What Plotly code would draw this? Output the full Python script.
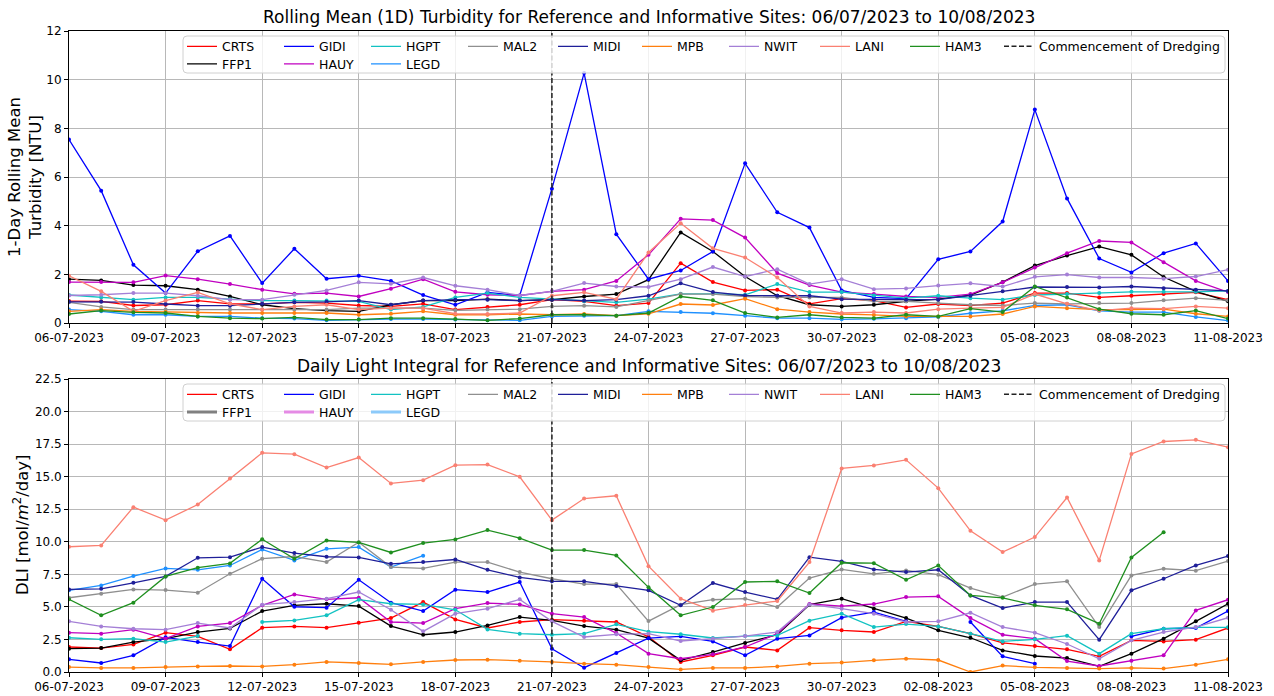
import pandas as pd
import plotly.graph_objects as go
from plotly.subplots import make_subplots

nan = None

START_DATE = "2023-07-06"
END_DATE = "2023-08-11"
DATES = pd.date_range(START_DATE, END_DATE, freq="D")
DREDGE_DATE = "2023-07-21"

SITES = ["CRTS", "FFP1", "GIDI", "HAUY", "HGPT", "LEGD", "MAL2", "MIDI", "MPB", "NWIT", "LANI", "HAM3"]

# ---- 1-day rolling mean turbidity [NTU] ----
CRTS_T = [0.90, 0.89, 0.72, 0.75, 0.92, 0.79, 0.79, 0.85, 0.82, 0.72, 0.68, 0.79, 0.55, 0.66, 0.75, 0.96, 0.89, 0.71,
          0.82, 2.46, 1.68, 1.34, 1.37, 0.79, 1.00, 0.92, 0.64, 0.78, 0.72, 0.82, 1.23, 1.23, 1.05, 1.12, 1.19, 1.26, 0.96]
FFP1_T = [1.80, 1.75, 1.56, 1.53, 1.37, 1.09, 0.75, 0.59, 0.51, 0.48, 0.75, 0.92, 0.92, 0.98, 0.92, 0.96, 1.09, 1.19,
          1.78, 3.72, 2.94, 1.91, 1.12, 0.75, 0.68, 0.75, 0.89, 0.98, 1.15, 1.68, 2.36, 2.77, 3.14, 2.80, 1.89, 1.30, 0.89]
GIDI_T = [7.54, 5.44, 2.39, 1.23, 2.95, 3.58, 1.64, 3.05, 1.82, 1.94, 1.73, 1.15, 0.75, 1.26, 1.13, 5.52, 10.27, 3.65,
          1.80, 2.16, 2.94, 6.56, 4.55, 3.92, 1.34, 1.05, 1.00, 2.62, 2.94, 4.17, 8.77, 5.12, 2.65, 2.08, 2.87, 3.27, 1.73]
HAUY_T = [1.68, 1.68, 1.67, 1.95, 1.80, 1.60, 1.37, 1.20, 1.23, 1.09, 1.41, 1.80, 1.28, 1.16, 1.13, 1.30, 1.37, 1.73,
          2.80, 4.28, 4.23, 3.51, 2.05, 1.56, 1.27, 1.19, 1.09, 1.05, 1.19, 1.67, 2.28, 2.87, 3.37, 3.31, 2.50, 1.73, 1.27]
HGPT_T = [1.15, 1.05, 0.96, 1.05, 1.05, 0.98, 0.92, 0.92, 0.92, 0.89, 0.55, 0.66, 1.05, 1.23, 1.05, 0.98, 0.89, 0.85,
          0.98, 1.20, 1.20, 1.16, 1.60, 1.27, 1.27, 1.13, 1.02, 1.12, 1.02, 0.96, 1.15, 1.19, 1.23, 1.28, 1.28, 1.28, 1.32]
LEGD_T = [0.55, 0.48, 0.34, 0.34, 0.27, 0.27, 0.20, 0.18, 0.11, 0.14, 0.16, 0.16, 0.14, 0.11, 0.11, 0.27, 0.30, 0.30,
          0.48, 0.45, 0.40, 0.30, 0.20, 0.20, 0.15, 0.17, 0.20, 0.25, 0.40, 0.50, 0.72, 0.75, 0.50, 0.45, 0.45, 0.25, 0.10]
MAL2_T = [0.85, 0.66, 0.55, 0.55, 0.55, 0.55, 0.55, 0.55, 0.55, 0.61, 0.61, 0.61, 0.52, 0.55, 0.57, 0.68, 0.71, 0.66,
          0.92, 1.19, 1.19, 1.09, 1.05, 1.05, 1.05, 0.89, 0.89, 0.82, 0.75, 0.72, 0.82, 0.79, 0.82, 0.82, 0.93, 1.02, 0.93]
MIDI_T = [0.87, 0.87, 0.86, 0.78, 0.71, 0.71, 0.79, 0.85, 0.87, 0.92, 0.75, 0.92, 0.96, 0.96, 0.92, 0.96, 0.92, 0.96,
          1.12, 1.63, 1.27, 1.13, 1.12, 1.12, 0.98, 0.96, 0.96, 0.96, 1.12, 1.30, 1.48, 1.48, 1.46, 1.50, 1.43, 1.37, 1.32]
MPB_T = [0.48, 0.55, 0.48, 0.45, 0.41, 0.41, 0.41, 0.41, 0.41, 0.34, 0.38, 0.48, 0.34, 0.34, 0.37, 0.34, 0.37, 0.30,
         0.38, 0.78, 0.74, 1.00, 0.57, 0.45, 0.37, 0.33, 0.27, 0.27, 0.27, 0.37, 0.68, 0.61, 0.55, 0.55, 0.57, 0.38, 0.27]
NWIT_T = [1.13, 1.16, 1.23, 1.23, 1.12, 0.96, 0.96, 1.16, 1.34, 1.67, 1.61, 1.87, 1.53, 1.37, 1.13, 1.30, 1.64, 1.50,
          1.48, 1.80, 2.30, 1.91, 2.21, 1.60, 1.80, 1.39, 1.42, 1.54, 1.63, 1.50, 1.90, 1.99, 1.87, 1.87, 1.82, 1.91, 2.19]
LANI_T = [1.94, 1.30, 0.48, 0.92, 1.26, 0.79, 0.55, 0.68, 0.75, 0.55, 0.61, 0.61, 0.38, 0.37, 0.41, 1.12, 1.26, 0.98,
          2.90, 4.10, 3.07, 2.69, 1.87, 0.68, 0.41, 0.45, 0.41, 0.57, 0.61, 0.64, 1.19, 0.79, 0.51, 0.61, 0.59, 0.68, 0.61]
HAM3_T = [0.37, 0.51, 0.44, 0.41, 0.27, 0.20, 0.18, 0.23, 0.14, 0.14, 0.20, 0.20, 0.16, 0.11, 0.18, 0.34, 0.34, 0.30,
          0.41, 1.09, 0.93, 0.41, 0.23, 0.34, 0.23, 0.20, 0.34, 0.27, 0.59, 0.45, 1.50, 1.05, 0.57, 0.38, 0.34, 0.51, 0.18]

# ---- Daily light integral [mol/m2/day] ----
CRTS_D = [1.92, 1.84, 2.12, 3.02, 2.74, 1.74, 3.40, 3.50, 3.40, 3.79, 4.14, 5.37, 4.04, 3.38, 3.84, 4.02, 3.94, 3.84,
          2.70, 0.77, 1.28, 1.92, 1.66, 3.40, 3.20, 3.07, 3.89, 3.50, 2.94, 2.23, 1.99, 1.74, 1.20, 2.43, 2.35, 2.48, 3.38]
FFP1_D = [1.79, 1.84, 2.30, 2.56, 3.07, 3.35, 4.68, 5.12, 5.24, 5.06, 3.53, 2.86, 3.07, 3.58, 4.22, 3.96, 3.53, 3.25,
          2.60, 0.90, 1.53, 2.23, 2.86, 5.17, 5.63, 4.86, 4.14, 3.20, 2.63, 1.66, 1.23, 1.07, 0.43, 1.41, 2.56, 3.89, 5.24]
GIDI_D = [0.97, 0.69, 1.28, 2.66, 2.30, 1.99, 7.16, 5.01, 4.94, 7.08, 5.32, 4.68, 6.32, 6.14, 6.91, 1.79, 0.33, 1.46,
          2.60, 2.74, 2.35, 1.28, 2.56, 2.81, 4.17, 4.60, 3.89, nan, 3.84, 1.20, 0.64, nan, nan, 2.74, 3.32, 3.38, 4.68]
HAUY_D = [3.02, 2.94, 3.25, 2.56, 3.50, 3.76, 5.12, 5.96, 5.58, 5.70, 3.84, 3.76, 4.86, 5.29, 5.19, 4.48, 4.22, 2.99,
          1.41, 1.02, 1.36, 1.92, 2.94, 5.22, 5.06, 5.22, 5.75, 5.81, 4.14, 2.86, 2.56, 0.84, 0.46, 0.87, 1.28, 4.73, 5.55]
HGPT_D = [2.63, 2.51, 2.56, 2.30, 2.76, nan, 3.84, 3.96, 4.35, 5.55, 5.24, 5.19, 4.78, 3.27, 2.94, 2.86, 2.94, 3.66,
          3.10, 2.90, 2.61, 2.76, 2.81, 3.94, 4.48, 3.45, 3.68, 3.50, 2.94, 2.35, 2.51, 2.79, 1.41, 2.94, 3.32, 3.43, 3.43]
LEGD_D = [6.27, 6.65, 7.37, 7.95, 7.85, 8.18, 9.41, 8.57, 9.46, 9.59, 8.06, 8.93, nan, nan, nan, nan, nan, nan,
          nan, nan, nan, nan, nan, nan, nan, nan, nan, nan, nan, nan, nan, nan, nan, nan, nan, nan, nan]
MAL2_D = [5.70, 6.01, 6.34, 6.29, 6.09, 7.54, 8.70, 8.87, 8.44, 9.97, 8.06, 7.95, 8.44, 8.44, 7.67, 7.16, 6.75, 6.75,
          3.91, 5.17, 5.55, 5.63, 4.99, 7.21, 7.88, 7.54, 7.80, 7.47, 6.45, 5.75, 6.75, 6.96, 3.45, 7.42, 7.93, 7.78, 8.52]
MIDI_D = [6.34, 6.39, 6.85, 7.34, 8.77, 8.82, 9.59, 9.13, 8.85, 8.80, 8.31, 8.44, 8.64, 7.85, 7.26, 6.96, 6.96, 6.60,
          6.27, 5.12, 6.83, 6.14, 5.58, 8.82, 8.49, 7.88, 7.67, 7.85, 5.88, 4.91, 5.37, 5.37, 2.48, 6.27, 7.16, 8.18, 8.90]
MPB_D = [0.38, 0.31, 0.31, 0.38, 0.43, 0.46, 0.43, 0.56, 0.77, 0.69, 0.59, 0.77, 0.92, 0.95, 0.87, 0.77, 0.64, 0.56,
         0.38, 0.20, 0.31, 0.31, 0.43, 0.64, 0.72, 0.90, 1.02, 0.92, 0.00, 0.49, 0.36, 0.31, 0.26, 0.31, 0.26, 0.56, 0.97]
NWIT_D = [3.89, 3.50, 3.32, 3.25, 3.76, 3.38, 5.17, 5.37, 5.63, 6.14, 4.78, 3.12, 4.48, 4.86, 5.58, 3.89, 2.69, 2.89,
          2.94, 2.38, 2.56, 2.76, 3.07, 5.19, 4.86, 4.48, 3.84, 3.89, 4.55, 3.45, 3.02, 2.15, 1.02, 2.43, 3.07, 3.45, 4.17]
LANI_D = [9.62, 9.72, 12.66, 11.66, 12.86, 14.86, 16.83, 16.73, 15.70, 16.47, 14.48, 14.73, 15.88, 15.93, 14.99, 11.66,
          13.32, 13.53, 8.13, 5.63, 4.71, 5.14, 5.45, 8.44, 15.63, 15.86, 16.29, 14.12, 10.84, 9.21, 10.36, 13.40, 8.57,
          16.75, 17.70, 17.83, 17.26]
HAM3_D = [5.58, 4.35, 5.32, 7.34, 8.01, 8.34, 10.20, 8.70, 10.10, 9.95, 9.18, 9.90, 10.18, 10.90, 10.28, 9.36, 9.36, 8.95,
          6.50, 4.35, 4.99, 6.91, 6.96, 6.06, 8.39, 8.36, 7.08, 8.18, 5.88, 5.70, 5.12, 4.81, 3.71, 8.80, 10.74, nan, nan]

TURBIDITY = {"CRTS": CRTS_T, "FFP1": FFP1_T, "GIDI": GIDI_T, "HAUY": HAUY_T, "HGPT": HGPT_T, "LEGD": LEGD_T,
             "MAL2": MAL2_T, "MIDI": MIDI_T, "MPB": MPB_T, "NWIT": NWIT_T, "LANI": LANI_T, "HAM3": HAM3_T}
DLI = {"CRTS": CRTS_D, "FFP1": FFP1_D, "GIDI": GIDI_D, "HAUY": HAUY_D, "HGPT": HGPT_D, "LEGD": LEGD_D,
       "MAL2": MAL2_D, "MIDI": MIDI_D, "MPB": MPB_D, "NWIT": NWIT_D, "LANI": LANI_D, "HAM3": HAM3_D}

COLORS = {"CRTS": "#ff0000", "FFP1": "#000000", "GIDI": "#0000ff", "HAUY": "#c000c0", "HGPT": "#12c2c2",
          "LEGD": "#1e90ff", "MAL2": "#8f8f8f", "MIDI": "#1f1f99", "MPB": "#ff7f0e", "NWIT": "#a47fd6",
          "LANI": "#fa8072", "HAM3": "#1f8f1f"}
# bottom-panel legend handles drawn differently in the reference
DLI_LEGEND_STYLE = {"FFP1": ("#808080", 3), "HAUY": ("#e58be5", 3), "LEGD": ("#8ccafa", 3)}

ROW1 = ["CRTS", "GIDI", "HGPT", "MAL2", "MIDI", "MPB", "NWIT", "LANI", "HAM3"]
ROW2 = ["FFP1", "HAUY", "LEGD"]
ENTRY_W = {"CRTS": 52, "GIDI": 42, "HGPT": 52, "MAL2": 45, "MIDI": 39, "MPB": 42, "NWIT": 46, "LANI": 45,
           "HAM3": 49, "FFP1": 52, "HAUY": 42}

TITLE_T = "Rolling Mean (1D) Turbidity for Reference and Informative Sites: 06/07/2023 to 10/08/2023"
TITLE_D = "Daily Light Integral for Reference and Informative Sites: 06/07/2023 to 10/08/2023"
YLAB_T = "1-Day Rolling Mean<br>Turbidity [NTU]"
YLAB_D = "DLI [mol/<i>m</i><sup>2</sup>/day]"
DREDGE_LABEL = "Commencement of Dredging"
YMAX_T = 12
YMAX_D = 22.5

FONT = "DejaVu Sans"
W, H = 1274, 696
L, R, T, B = 69, 46, 31, 24
PW, PH = W - L - R, H - T - B


def py(pix):  # page pixel y -> paper y
    return (H - B - pix) / PH


def px(pix):  # page pixel x -> paper x
    return (pix - L) / PW


fig = make_subplots(rows=2, cols=1)

panels = [(1, TURBIDITY, "legend", "legend2", YMAX_T), (2, DLI, "legend3", "legend4", YMAX_D)]
for row, data, lg1, lg2, ymax in panels:
    for site in SITES:
        col = COLORS[site]
        lg = lg1 if site in ROW1 else lg2
        special = row == 2 and site in DLI_LEGEND_STYLE
        fig.add_trace(go.Scatter(
            x=DATES, y=data[site], mode="lines", name=site, line=dict(color=col, width=1.3),
            legend=lg, showlegend=not special, legendwidth=ENTRY_W.get(site, 0), hoverinfo="skip"),
            row=row, col=1)
        fig.add_trace(go.Scatter(
            x=DATES, y=data[site], mode="markers", name=site, marker=dict(color=col, size=4),
            showlegend=False), row=row, col=1)
        if special:
            c2, w2 = DLI_LEGEND_STYLE[site]
            fig.add_trace(go.Scatter(
                x=[None], y=[None], mode="lines", name=site, line=dict(color=c2, width=w2),
                legend=lg, legendwidth=ENTRY_W.get(site, 0)), row=row, col=1)
    fig.add_trace(go.Scatter(
        x=[DREDGE_DATE, DREDGE_DATE], y=[0, ymax], mode="lines", name=DREDGE_LABEL,
        line=dict(color="#222222", width=1.5, dash="5px,2.5px"), legend=lg1), row=row, col=1)

top_dom = [py(323), 1.0]
bot_dom = [0.0, py(379)]

axis_common = dict(showline=True, linecolor="black", linewidth=1, mirror=True, ticks="outside", ticklen=4,
                   tickcolor="black", showgrid=True, gridcolor="#b8b8b8", gridwidth=1, zeroline=False,
                   tickfont=dict(family=FONT, size=12, color="black"))
xcommon = dict(axis_common, type="date", range=[START_DATE, END_DATE], tick0=START_DATE, dtick=3 * 86400000,
               tickformat="%d-%m-%Y")
fig.update_layout(
    xaxis=dict(xcommon, domain=[0, 1]),
    xaxis2=dict(xcommon, domain=[0, 1]),
    yaxis=dict(axis_common, domain=top_dom, range=[0, YMAX_T], dtick=2),
    yaxis2=dict(axis_common, domain=bot_dom, range=[0, YMAX_D], dtick=2.5, tickformat=".1f"),
)

leg_common = dict(orientation="h", xanchor="left", yanchor="middle", bgcolor="rgba(0,0,0,0)", borderwidth=0,
                  font=dict(family=FONT, size=12.5, color="black"), itemwidth=30, tracegroupgap=0,
                  itemclick=False, itemdoubleclick=False)
LEG_X = px(182)
fig.update_layout(
    legend=dict(leg_common, x=LEG_X, y=py(46.7)),
    legend2=dict(leg_common, x=LEG_X, y=py(64.3)),
    legend3=dict(leg_common, x=LEG_X, y=py(394.7)),
    legend4=dict(leg_common, x=LEG_X, y=py(412.3)),
)


def rounded_box(x0, y0, x1, y1, r=4):
    rx, ry = r / PW, r / PH
    X0, X1, Y0, Y1 = px(x0), px(x1), py(y1), py(y0)
    return (f"M{X0 + rx},{Y0} L{X1 - rx},{Y0} Q{X1},{Y0} {X1},{Y0 + ry} L{X1},{Y1 - ry} "
            f"Q{X1},{Y1} {X1 - rx},{Y1} L{X0 + rx},{Y1} Q{X0},{Y1} {X0},{Y1 - ry} L{X0},{Y0 + ry} "
            f"Q{X0},{Y0} {X0 + rx},{Y0} Z")


shapes = []
for (y0, y1) in [(36, 73), (384, 421)]:
    shapes.append(dict(type="path", xref="paper", yref="paper", path=rounded_box(183, y0, 1225, y1),
                       fillcolor="rgba(255,255,255,0.8)", line=dict(color="#d0d0d0", width=1), layer="above"))

TITLE_SIZE = 17
YLAB_SIZE = 16.5
annotations = [
    dict(text=TITLE_T, x=0.5, y=py(17), xref="paper", yref="paper", showarrow=False, xanchor="center",
         yanchor="middle", font=dict(family=FONT, size=TITLE_SIZE, color="black")),
    dict(text=TITLE_D, x=0.5, y=py(366), xref="paper", yref="paper", showarrow=False, xanchor="center",
         yanchor="middle", font=dict(family=FONT, size=TITLE_SIZE, color="black")),
    dict(text=YLAB_T, x=px(25), y=py(177), xref="paper", yref="paper", showarrow=False, xanchor="center",
         yanchor="middle", textangle=-90, font=dict(family=FONT, size=YLAB_SIZE, color="black")),
    dict(text=YLAB_D, x=px(21), y=py(525), xref="paper", yref="paper", showarrow=False, xanchor="center",
         yanchor="middle", textangle=-90, font=dict(family=FONT, size=YLAB_SIZE, color="black")),
]

fig.update_layout(
    width=W, height=H, margin=dict(l=L, r=R, t=T, b=B, autoexpand=False),
    plot_bgcolor="white", paper_bgcolor="white", shapes=shapes, annotations=annotations,
    hovermode=False, font=dict(family=FONT, color="black"),
)

fig.write_html("out.html", config={"displayModeBar": False, "staticPlot": True},
               post_script="document.body.style.margin='0px';document.body.style.padding='0px';"
                           "document.body.style.overflow='hidden';")
